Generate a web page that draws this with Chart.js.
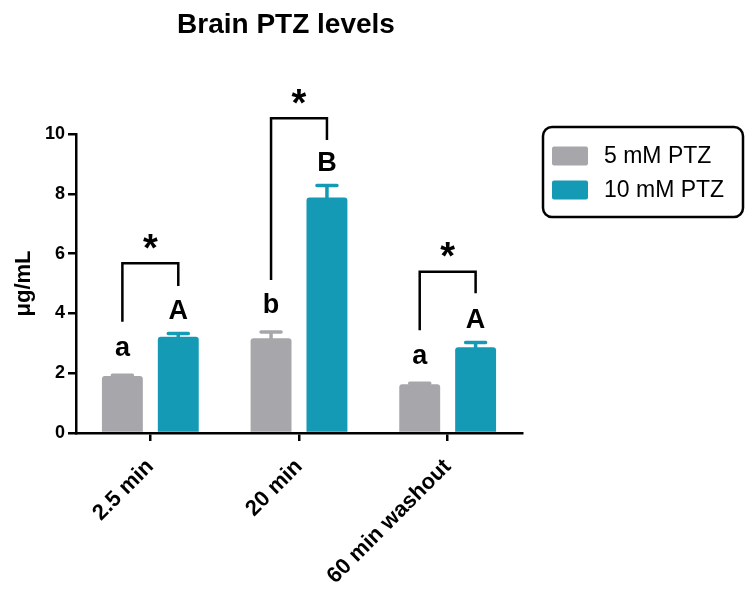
<!DOCTYPE html>
<html><head><meta charset="utf-8">
<script src="https://cdn.jsdelivr.net/npm/chart.js@4"></script>
<style>html,body{margin:0;padding:0;background:#fff}</style>
</head><body>
<canvas id="c" width="752" height="592"></canvas>
<script>
const chartTitle = 'Brain PTZ levels';
const yTitle = 'μg/mL';
const categories = ['2.5 min', '20 min', '60 min washout'];
const seriesNames = ['5 mM PTZ', '10 mM PTZ'];
const lowDose = [1.91, 3.17, 1.63];
const highDose = [3.22, 7.88, 2.87];
const lowDoseErr = [0.02, 0.21, 0.03];
const highDoseErr = [0.11, 0.40, 0.16];
const lowLetters = ['a', 'b', 'a'];
const highLetters = ['A', 'B', 'A'];
const bracketTop = [5.68, 10.53, 5.39];
const bracketLeftEnd = [3.72, 5.12, 3.44];
const bracketRightEnd = [4.92, 9.80, 4.67];
const yMin = 0, yMax = 10, yStep = 2;

const GRAY = '#a7a7ab';
const TEAL = '#149ab4';
const FONT = '"Liberation Sans", Arial, sans-serif';

const errs = [lowDoseErr, highDoseErr];
const letters = [lowLetters, highLetters];

const annotPlugin = {
  id: 'annot',
  afterDatasetsDraw(chart) {
    const ctx = chart.ctx;
    const y = chart.scales.y;
    ctx.save();
    chart.data.datasets.forEach((ds, di) => {
      const meta = chart.getDatasetMeta(di);
      meta.data.forEach((bar, i) => {
        const top = y.getPixelForValue(ds.data[i] + errs[di][i]);
        ctx.strokeStyle = ds.backgroundColor;
        ctx.lineWidth = 3.5;
        ctx.lineCap = 'round';
        ctx.beginPath();
        ctx.moveTo(bar.x, bar.y);
        ctx.lineTo(bar.x, top);
        ctx.moveTo(bar.x - 10, top);
        ctx.lineTo(bar.x + 10, top);
        ctx.stroke();
        const L = letters[di][i];
        const upper = L === L.toUpperCase();
        ctx.fillStyle = '#000';
        ctx.font = 'bold 27px ' + FONT;
        ctx.textAlign = 'center';
        ctx.textBaseline = 'alphabetic';
        ctx.fillText(L, bar.x, top - (upper ? 14 : 19));
      });
    });
    const m0 = chart.getDatasetMeta(0), m1 = chart.getDatasetMeta(1);
    ctx.strokeStyle = '#000';
    ctx.lineWidth = 2.5;
    ctx.lineCap = 'butt';
    categories.forEach((c, i) => {
      const xl = m0.data[i].x, xr = m1.data[i].x;
      const yt = y.getPixelForValue(bracketTop[i]);
      ctx.beginPath();
      ctx.moveTo(xl, y.getPixelForValue(bracketLeftEnd[i]));
      ctx.lineTo(xl, yt);
      ctx.lineTo(xr, yt);
      ctx.lineTo(xr, y.getPixelForValue(bracketRightEnd[i]));
      ctx.stroke();
      ctx.fillStyle = '#000';
      ctx.font = 'bold 38px ' + FONT;
      ctx.textAlign = 'center';
      ctx.textBaseline = 'alphabetic';
      ctx.fillText('*', (xl + xr) / 2, yt - 24 + 0.57 * 38);
    });
    ctx.restore();
  },
  afterDraw(chart) {
    const ctx = chart.ctx;
    ctx.save();
    ctx.fillStyle = '#000';
    ctx.font = 'bold 28px ' + FONT;
    ctx.textAlign = 'center';
    ctx.textBaseline = 'alphabetic';
    ctx.fillText(chartTitle, 286, 33);
    const bx = 543, by = 127, bw = 200, bh = 90, r = 9;
    ctx.strokeStyle = '#000';
    ctx.lineWidth = 2.5;
    ctx.beginPath();
    ctx.roundRect(bx, by, bw, bh, r);
    ctx.stroke();
    chart.data.datasets.forEach((ds, di) => {
      const cy = 156 + di * 34;
      ctx.fillStyle = ds.backgroundColor;
      ctx.beginPath();
      ctx.roundRect(552, cy - 9.5, 36, 19, 2);
      ctx.fill();
      ctx.fillStyle = '#000';
      ctx.font = '23px ' + FONT;
      ctx.textAlign = 'left';
      ctx.textBaseline = 'middle';
      ctx.fillText(ds.label, 604, cy + 1);
    });
    ctx.restore();
  }
};

new Chart(document.getElementById('c'), {
  type: 'bar',
  data: {
    labels: categories,
    datasets: [
      { label: seriesNames[0], data: lowDose, backgroundColor: GRAY },
      { label: seriesNames[1], data: highDose, backgroundColor: TEAL }
    ]
  },
  options: {
    responsive: false,
    animation: false,
    devicePixelRatio: 1,
    layout: { padding: { left: 0, top: 134, right: 230, bottom: 0 } },
    datasets: { bar: { categoryPercentage: 0.752, barPercentage: 0.732, borderRadius: 3, borderSkipped: 'bottom' } },
    plugins: { legend: { display: false }, title: { display: false }, tooltip: { enabled: false } },
    scales: {
      x: {
        afterFit(s) { s.height = 159; },
        grid: { offset: false, drawOnChartArea: false, drawTicks: true, tickLength: 8, color: '#000', lineWidth: 2.5 },
        border: { display: true, color: '#000', width: 2.5 },
        ticks: { color: '#000', font: { family: FONT, size: 22, weight: 'bold' }, minRotation: 45, maxRotation: 45, padding: 13, autoSkip: false }
      },
      y: {
        min: yMin, max: yMax,
        afterFit(s) { s.width = 76; },
        grid: { drawOnChartArea: false, drawTicks: true, tickLength: 8, color: '#000', lineWidth: 2.5 },
        border: { display: true, color: '#000', width: 2.5 },
        ticks: { stepSize: yStep, color: '#000', font: { family: FONT, size: 18, weight: 'bold' }, padding: 3 },
        title: { display: true, text: yTitle, color: '#000', font: { family: FONT, size: 22, weight: 'bold' }, padding: { top: 11, bottom: 0 } }
      }
    }
  },
  plugins: [annotPlugin]
});
</script>
</body></html>
